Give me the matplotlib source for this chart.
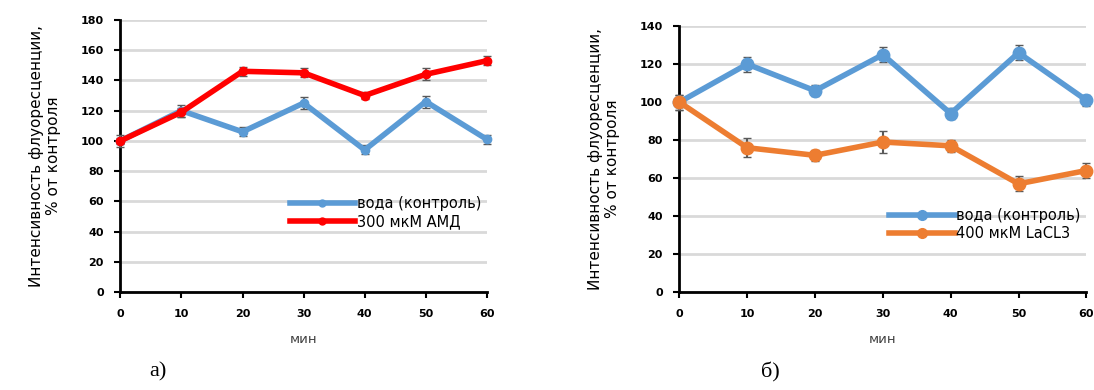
import matplotlib
matplotlib.use("Agg")
import matplotlib.pyplot as plt
from matplotlib.lines import Line2D

minutes = [0, 10, 20, 30, 40, 50, 60]

water = [100, 120, 106, 125, 94, 126, 101]
water_err = [4, 4, 3, 4, 3, 4, 3]

amd = [100, 119, 146, 145, 130, 144, 153]
amd_err = [2, 3, 3, 3, 2, 4, 3]

lacl = [100, 76, 72, 79, 77, 57, 64]
lacl_err = [4, 5, 3, 6, 3, 4, 4]

water_label = "вода (контроль)"
amd_label = "300 мкМ АМД"
lacl_label = "400 мкМ LaCL3"
ylabel = "Интенсивность флуоресценции,\n% от контроля"

BLUE = "#5B9BD5"
RED = "#FF0000"
ORANGE = "#ED7D31"

plt.rcParams["font.family"] = ["DejaVu Sans"]

fig = plt.figure(figsize=(10.94, 3.9), dpi=100)
ax1 = fig.add_axes([0.110, 0.251, 0.335, 0.698])
ax2 = fig.add_axes([0.621, 0.251, 0.372, 0.682])


def style(ax, ymax, step):
    ax.set_xlim(0, 60)
    ax.set_ylim(0, ymax)
    ax.set_xticks(minutes)
    ax.set_yticks(range(0, ymax + 1, step))
    ax.yaxis.grid(True, color="#D9D9D9", linewidth=2)
    ax.set_axisbelow(True)
    for s in ["top", "right"]:
        ax.spines[s].set_visible(False)
    for s in ["left", "bottom"]:
        ax.spines[s].set_linewidth(2)
    ax.tick_params(axis="both", direction="out", length=4, width=1.5,
                   labelsize=8, pad=8)
    for lab in ax.get_xticklabels() + ax.get_yticklabels():
        lab.set_fontweight("bold")
    ax.set_xlabel("мин", fontsize=9.5, color="#404040", labelpad=10)
    ax.set_ylabel(ylabel, fontsize=11, labelpad=14)
    for sp in ax.spines.values():
        sp.set_clip_on(False)


def series(ax, y, err, color, ms):
    ax.errorbar(minutes, y, yerr=err, color=color, lw=4, marker="o",
                ms=ms, ecolor="#595959", elinewidth=1.5, capsize=3,
                clip_on=False, zorder=3)


def legend(ax, items, ms, y0):
    handles = [Line2D([], [], color=c, lw=4, marker="o", ms=ms) for c, _ in items]
    ax.legend(handles, [t for _, t in items], loc="lower right",
              bbox_to_anchor=(1.0, y0), frameon=False, fontsize=10.5,
              handlelength=4.5, handletextpad=0.1, labelspacing=0.2,
              borderaxespad=0)


# panel a
series(ax1, water, water_err, BLUE, 6)
series(ax1, amd, amd_err, RED, 6)
style(ax1, 180, 20)
legend(ax1, [(BLUE, water_label), (RED, amd_label)], 5, 0.21)

# panel b
series(ax2, water, water_err, BLUE, 9)
series(ax2, lacl, lacl_err, ORANGE, 9)
style(ax2, 140, 20)
legend(ax2, [(BLUE, water_label), (ORANGE, lacl_label)], 7, 0.17)

fig.text(158 / 1094, 1 - 372 / 390, "а)", fontsize=16,
         family="Liberation Serif", ha="center", va="center")
fig.text(770 / 1094, 1 - 372 / 390, "б)", fontsize=16,
         family="Liberation Serif", ha="center", va="center")

fig.savefig("out.png", dpi=100)
